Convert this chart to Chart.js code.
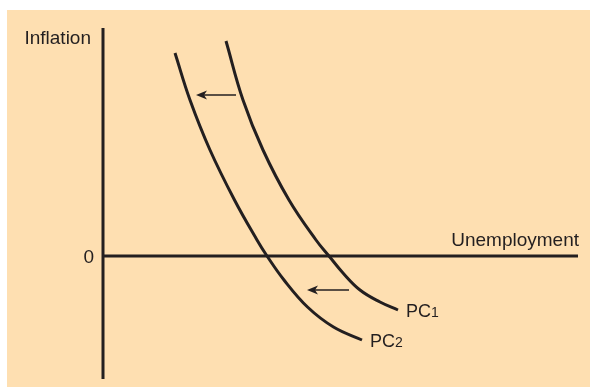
<!DOCTYPE html>
<html><head><meta charset="utf-8">
<script src="https://cdn.jsdelivr.net/npm/chart.js@4/dist/chart.umd.min.js"></script>
<style>html,body{margin:0;padding:0;background:#fff;}#wrap{width:590px;height:387px;}</style>
</head><body><div id="wrap"><canvas id="c" width="590" height="387"></canvas></div>
<script>
// Phillips curves (unemployment, inflation) in diagram units, axes cross at (0,0)
const pc1Unemp = [123, 140, 160, 186, 213, 226, 240, 257, 277, 295];
const pc1Infl  = [215, 156, 106, 56, 16, 0, -17, -34, -46, -54];
const pc2Unemp = [72, 87, 107, 131.5, 154, 164, 181, 204.5, 230.5, 259];
const pc2Infl  = [203, 156, 106, 56, 16, 0, -24, -51, -71, -84];
const seriesNames = ['PC', 'PC'];
const seriesSubs = ['1', '2'];
const yTickLabels = ['0'];
const yTickValues = [0];
const axisTitles = ['Inflation', 'Unemployment'];
const arrowFromU = [133, 246];
const arrowToU = [93, 204];
const arrowInfl = [161, -34];
const xRange = [0, 475];
const yRange = [-123, 228];

const INK = '#231f20';
const toPts = (xs, ys) => xs.map((x, i) => ({x: x, y: ys[i]}));

const bgPlugin = {
  id: 'bg',
  beforeDraw(chart) {
    const c = chart.ctx;
    c.save();
    c.fillStyle = '#ffffff';
    c.fillRect(0, 0, chart.width, chart.height);
    c.fillStyle = '#fedfb1';
    c.fillRect(7, 10, chart.width - 7, chart.height - 10);
    c.restore();
  }
};

const axesPlugin = {
  id: 'axes',
  beforeDatasetsDraw(chart) {
    const c = chart.ctx, xs = chart.scales.x, ys = chart.scales.y;
    const x0 = xs.getPixelForValue(0), y0 = ys.getPixelForValue(0);
    c.save();
    c.strokeStyle = INK;
    c.lineWidth = 3;
    c.beginPath();
    c.moveTo(x0, ys.getPixelForValue(yRange[1]));
    c.lineTo(x0, ys.getPixelForValue(yRange[0]));
    c.moveTo(x0 - 1.5, y0);
    c.lineTo(xs.getPixelForValue(xRange[1]), y0);
    c.stroke();
    c.restore();
  },
  afterDatasetsDraw(chart) {
    const c = chart.ctx, xs = chart.scales.x, ys = chart.scales.y;
    const x0 = xs.getPixelForValue(0), y0 = ys.getPixelForValue(0);
    c.save();
    // arrows
    c.strokeStyle = INK; c.fillStyle = INK; c.lineWidth = 1.6;
    for (let i = 0; i < arrowFromU.length; i++) {
      const xa = xs.getPixelForValue(arrowFromU[i]);
      const xb = xs.getPixelForValue(arrowToU[i]);
      const ya = ys.getPixelForValue(arrowInfl[i]);
      c.beginPath(); c.moveTo(xa, ya); c.lineTo(xb + 6, ya); c.stroke();
      c.beginPath();
      c.moveTo(xb, ya);
      c.lineTo(xb + 11, ya - 4.5);
      c.lineTo(xb + 8, ya);
      c.lineTo(xb + 11, ya + 4.5);
      c.closePath(); c.fill();
    }
    // texts
    c.fillStyle = INK;
    c.textBaseline = 'alphabetic';
    c.font = '19px "Liberation Sans", Arial, sans-serif';
    c.textAlign = 'right';
    c.fillText(axisTitles[0], x0 - 12, ys.getPixelForValue(yRange[1]) + 16);
    yTickLabels.forEach((t, i) => {
      c.fillText(t, x0 - 9, ys.getPixelForValue(yTickValues[i]) + 6.5);
    });
    c.fillText(axisTitles[1], xs.getPixelForValue(xRange[1]) + 1, y0 - 10);
    c.textAlign = 'left';
    const ends = [[pc1Unemp, pc1Infl], [pc2Unemp, pc2Infl]];
    ends.forEach((e, i) => {
      const n = e[0].length - 1;
      const px = xs.getPixelForValue(e[0][n]) + 8;
      const py = ys.getPixelForValue(e[1][n]) + 6.5;
      c.font = '18px "Liberation Sans", Arial, sans-serif';
      c.fillText(seriesNames[i], px, py);
      const w = c.measureText(seriesNames[i]).width;
      c.font = '14px "Liberation Sans", Arial, sans-serif';
      c.fillText(seriesSubs[i], px + w, py);
    });
    c.restore();
  }
};

const lineStyle = {
  borderColor: INK, borderWidth: 3, pointRadius: 0, pointHoverRadius: 0,
  showLine: true, fill: false, tension: 0.4, clip: false,
  borderCapStyle: 'butt'
};

new Chart(document.getElementById('c'), {
  type: 'scatter',
  data: {
    datasets: [
      Object.assign({label: seriesNames[0] + seriesSubs[0], data: toPts(pc1Unemp, pc1Infl)}, lineStyle),
      Object.assign({label: seriesNames[1] + seriesSubs[1], data: toPts(pc2Unemp, pc2Infl)}, lineStyle)
    ]
  },
  options: {
    responsive: false, animation: false, devicePixelRatio: 1,
    layout: {autoPadding: false, padding: {left: 103, right: 12, top: 28, bottom: 8}},
    plugins: {legend: {display: false}, tooltip: {enabled: false}},
    scales: {
      x: {type: 'linear', min: xRange[0], max: xRange[1], display: false},
      y: {type: 'linear', min: yRange[0], max: yRange[1], display: false}
    }
  },
  plugins: [bgPlugin, axesPlugin]
});
</script></body></html>
